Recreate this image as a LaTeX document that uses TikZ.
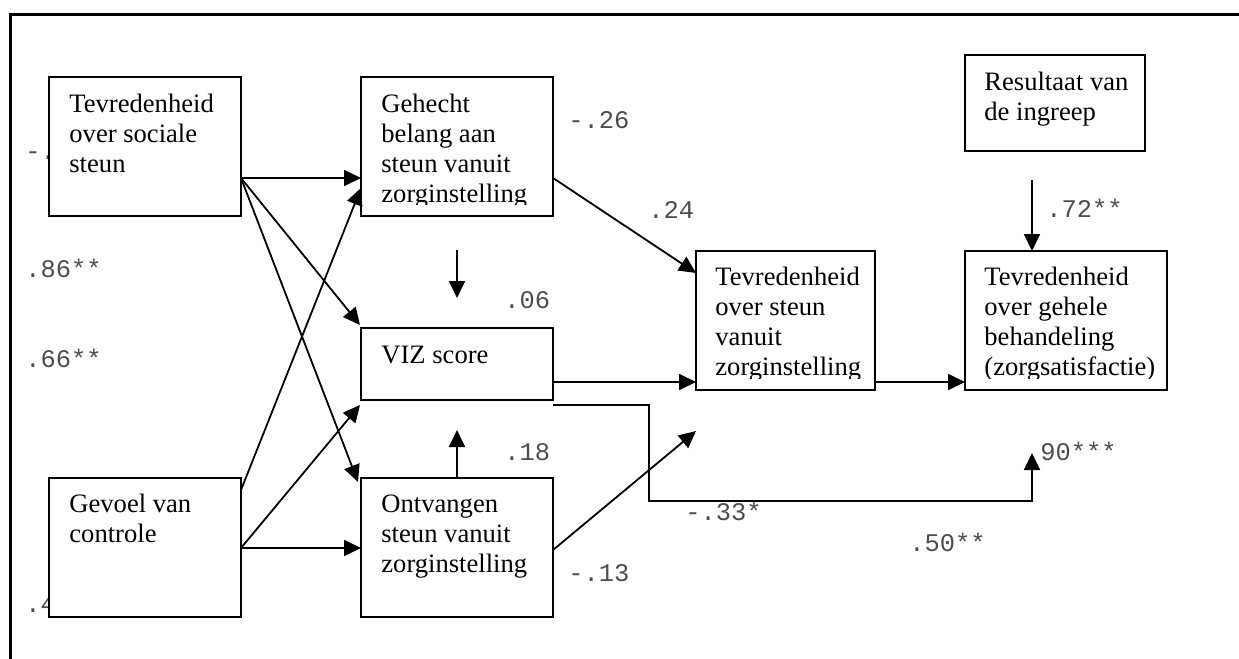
\documentclass[tikz,border=0pt]{standalone}
\usepackage{fontspec}
\setmainfont{Liberation Serif}
\newfontfamily\lblfont{Liberation Mono}
\usetikzlibrary{arrows.meta,calc}
\begin{document}
\begin{tikzpicture}[x=0.5pt,y=-0.5pt,
  box/.style={draw, line width=1pt, fill=white, inner sep=0pt, outer sep=0pt, anchor=north west},
  txt/.style={anchor=base west, inner sep=0pt, font=\fontsize{13.3}{15}\selectfont},
  lbl/.style={anchor=base west, inner sep=0pt, font=\lblfont\fontsize{12.7}{14}\selectfont, text=black!70},
  arr/.style={line width=0.9pt, -{Triangle[length=8.5pt,width=8pt]}},
  plain/.style={line width=0.9pt}
]
\useasboundingbox (0,0) rectangle (1239,659);
% frame
\draw[line width=1.5pt] (10.5,659) -- (10.5,14.3) -- (1239,14.3);

% coefficient labels (drawn first, partly hidden by boxes)
\node[lbl] (lA) at (25,159) {-.};
\node[lbl] (lG) at (25,612) {.4};
\node[lbl] (l86) at (25,277) {.86**};
\node[lbl] (l66) at (25,367) {.66**};
\node[lbl] (l26) at (568,128) {-.26};
\node[lbl] (l24) at (648,218) {.24};
\node[lbl] (l06) at (504,308) {.06};
\node[lbl] (l18) at (504,460) {.18};
\node[lbl] (l13) at (568,581) {-.13};
\node[lbl] (l33) at (685,520) {-.33*};
\node[lbl] (l50) at (909,551) {.50**};
\node[lbl] (l90) at (1040,460) {90***};
\node[lbl] (l72) at (1046,217) {.72**};

% boxes
\node[box, minimum width=96pt, minimum height=69.5pt] (A) at (49,77) {};
\node[box, minimum width=96pt, minimum height=69.5pt] (B) at (361,77) {};
\node[box, minimum width=96pt, minimum height=36pt] (V) at (361,328) {};
\node[box, minimum width=96pt, minimum height=69.5pt] (O) at (361,478) {};
\node[box, minimum width=96pt, minimum height=69.5pt] (G) at (49,478) {};
\node[box, minimum width=89.5pt, minimum height=69.5pt] (C) at (696,251) {};
\node[box, minimum width=90pt, minimum height=48pt] (R) at (965,55) {};
\node[box, minimum width=101pt, minimum height=69.5pt] (D) at (965,251) {};

% box texts
\node[txt] (At) at ($(A.north west)+(20,35)$) {\parbox[t]{150pt}{\raggedright Tevredenheid\\over sociale\\steun}};
\begin{scope}
\clip (B.north west) rectangle ($(B.south east)+(0,-12)$);
\node[txt] (Bt) at ($(B.north west)+(20,35)$) {\parbox[t]{150pt}{\raggedright Gehecht\\belang aan\\steun vanuit\\zorginstelling}};
\end{scope}
\node[txt] (Vt) at ($(V.north west)+(20,35)$) {VIZ score};
\node[txt] (Ot) at ($(O.north west)+(20,34)$) {\parbox[t]{150pt}{\raggedright Ontvangen\\steun vanuit\\zorginstelling}};
\node[txt] (Gt) at ($(G.north west)+(20,34)$) {\parbox[t]{150pt}{\raggedright Gevoel van\\controle}};
\begin{scope}
\clip (C.north west) rectangle ($(C.south east)+(0,-12)$);
\node[txt] (Ct) at ($(C.north west)+(19,34)$) {\parbox[t]{150pt}{\raggedright Tevredenheid\\over steun\\vanuit\\zorginstelling}};
\end{scope}
\node[txt] (Rt) at ($(R.north west)+(19,35)$) {\parbox[t]{150pt}{\raggedright Resultaat van\\de ingreep}};
\begin{scope}
\clip (D.north west) rectangle ($(D.south east)+(0,-12)$);
\node[txt] (Dt) at ($(D.north west)+(19,34)$) {\parbox[t]{150pt}{\raggedright Tevredenheid\\over gehele\\behandeling\\(zorgsatisfactie)}};
\end{scope}

% free arrow ends
\coordinate (p90) at (1032,453);
\coordinate (pOC) at ($(C.south west)+(0,41)$);
\coordinate (pR) at ($(R.south west)+(67,29)$);
\coordinate (pBt) at ($(B.south)+(0,34)$);
\coordinate (pBh) at ($(V.north)+(0,-30)$);
\coordinate (pOh) at ($(V.south)+(0,30)$);

% connectors
\draw[arr] ($(A.north east)+(0,101)$) -- ($(B.north west)+(0,101)$);
\draw[arr] ($(A.north east)+(0,101)$) -- ($(V.north west)+(-1,-3)$);
\draw[arr] ($(A.north east)+(0,101)$) -- ($(O.north west)+(-3,4)$);
\draw[arr] ($(G.north east)+(0,12)$) -- ($(B.north west)+(0,111)$);
\draw[arr] ($(G.north east)+(0,70)$) -- ($(V.south west)+(-1,5)$);
\draw[arr] ($(G.north east)+(0,70)$) -- ($(O.north west)+(0,70)$);
\draw[arr] ($(B.north east)+(0,101)$) -- ($(C.north west)+(0,22)$);
\draw[arr] ($(V.north east)+(0,54)$) -- ($(C.north west)+(0,131)$);
\draw[arr] ($(V.south east)+(0,5)$) -- (649,405) -- (649,501) -- (1032,501) -- (p90);
\draw[arr] ($(O.north east)+(0,72)$) -- (pOC);
\draw[arr] ($(C.north east)+(0,131)$) -- ($(D.north west)+(0,131)$);
\draw[arr] (pR) -- ($(D.north west)+(67,0)$);
\draw[arr] (pBt) -- (pBh);
\draw[arr] (O.north) -- (pOh);
\end{tikzpicture}
\end{document}
